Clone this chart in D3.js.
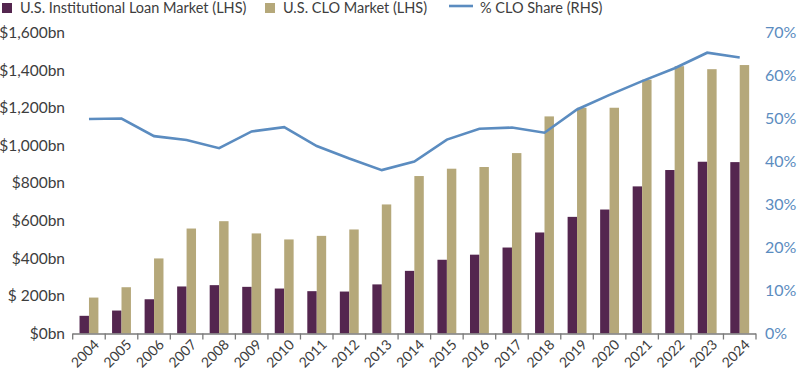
<!DOCTYPE html>
<html>
<head>
<meta charset="utf-8">
<script src="https://cdn.jsdelivr.net/npm/d3@7"></script>
<style>
  body { margin: 0; background: #fff; }
  svg { display: block; font-family: 'Lato', sans-serif; }
</style>
</head>
<body>
<svg id="chart" width="800" height="375"></svg>
<script>
// data
const years = ['2004','2005','2006','2007','2008','2009','2010','2011','2012','2013','2014',
               '2015','2016','2017','2018','2019','2020','2021','2022','2023','2024'];
const loanMarket = [94, 122, 182, 250, 257, 248, 239, 225, 223, 261, 333,
                    392, 419, 457, 537, 620, 659, 782, 869, 913, 911];
const cloMarket = [191, 246, 399, 558, 597, 532, 500, 519, 553, 686, 837,
                   876, 885, 959, 1154, 1200, 1200, 1349, 1421, 1405, 1427];
const cloShare = [49.9, 50.0, 45.9, 45.0, 43.1, 47.0, 48.0, 43.6, 40.7, 38.0, 40.0,
                  45.1, 47.6, 47.9, 46.7, 52.1, 55.5, 58.7, 61.7, 65.3, 64.2];
const leftTicks = [0, 200, 400, 600, 800, 1000, 1200, 1400, 1600];
const leftTickLabels = ['$0bn', '$ 200bn', '$400bn', '$600bn', '$800bn', '$1,000bn', '$1,200bn', '$1,400bn', '$1,600bn'];
const rightTicks = [0, 10, 20, 30, 40, 50, 60, 70];

const colors = {
    loan: '#54264f',
    clo: '#b5a87a',
    line: '#5b8cc0',
    text: '#3d3d3d',
    axis: '#7a7a7a'
};

const svg = d3.select('#chart');
const plot = { left: 72.7, right: 756, top: 32.5, bottom: 333.5 };

const x = d3.scaleBand().domain(years).range([plot.left, plot.right]).paddingInner(0.42).paddingOuter(0.21);
const xCenter = d3.scaleBand().domain(years).range([plot.left, plot.right]);
const yLeft = d3.scaleLinear().domain([0, 1600]).range([plot.bottom, plot.top]);
const yRight = d3.scaleLinear().domain([0, 70]).range([plot.bottom, plot.top]);
const half = x.bandwidth() / 2;

// bars
const groups = svg.append('g').selectAll('g')
    .data(years)
    .enter()
    .append('g');

groups.append('rect')
    .attr('x', d => x(d))
    .attr('width', half)
    .attr('y', (d, i) => yLeft(loanMarket[i]))
    .attr('height', (d, i) => plot.bottom - yLeft(loanMarket[i]))
    .attr('fill', colors.loan);

groups.append('rect')
    .attr('x', d => x(d) + half)
    .attr('width', half)
    .attr('y', (d, i) => yLeft(cloMarket[i]))
    .attr('height', (d, i) => plot.bottom - yLeft(cloMarket[i]))
    .attr('fill', colors.clo);

// x axis line with boundary ticks
const xAxis = svg.append('g');
xAxis.append('line')
    .attr('x1', plot.left).attr('x2', plot.right)
    .attr('y1', plot.bottom + 0.5).attr('y2', plot.bottom + 0.5)
    .attr('stroke', colors.axis).attr('stroke-width', 1.3);
const bounds = years.map(d => xCenter(d)).concat([plot.right]);
xAxis.selectAll('line.tick')
    .data(bounds)
    .enter()
    .append('line')
    .attr('class', 'tick')
    .attr('x1', d => d).attr('x2', d => d)
    .attr('y1', plot.bottom).attr('y2', plot.bottom + 6)
    .attr('stroke', colors.axis).attr('stroke-width', 1.3);

xAxis.selectAll('text')
    .data(years)
    .enter()
    .append('text')
    .attr('transform', d => `translate(${xCenter(d) + xCenter.bandwidth() / 2 + 4},${plot.bottom + 5}) rotate(-45)`)
    .attr('text-anchor', 'end')
    .attr('dy', '0.7em')
    .attr('font-size', 14)
    .attr('fill', colors.text)
    .text(d => d);

// left axis labels
svg.append('g').selectAll('text')
    .data(leftTicks)
    .enter()
    .append('text')
    .attr('x', 65)
    .attr('y', d => yLeft(d))
    .attr('dy', '0.35em')
    .attr('text-anchor', 'end')
    .attr('font-size', 15.5)
    .attr('fill', colors.text)
    .text((d, i) => leftTickLabels[i]);

// right axis labels
svg.append('g').selectAll('text')
    .data(rightTicks)
    .enter()
    .append('text')
    .attr('x', 765)
    .attr('y', d => yRight(d))
    .attr('dy', '0.35em')
    .attr('font-size', 16)
    .attr('fill', colors.line)
    .text(d => d + '%');

// share line
const line = d3.line()
    .x((d, i) => xCenter(years[i]) + xCenter.bandwidth() / 2)
    .y(d => yRight(d));

svg.append('path')
    .datum(cloShare)
    .attr('d', line)
    .attr('fill', 'none')
    .attr('stroke', colors.line)
    .attr('stroke-width', 2.6);

// legend
const legend = svg.append('g').attr('font-size', 14.5).attr('fill', colors.text);
legend.append('rect').attr('x', 2).attr('y', 3).attr('width', 10).attr('height', 10).attr('fill', colors.loan);
legend.append('text').attr('x', 20).attr('y', 8).attr('dy', '0.35em').text('U.S. Institutional Loan Market (LHS)');
legend.append('rect').attr('x', 265).attr('y', 3).attr('width', 10).attr('height', 10).attr('fill', colors.clo);
legend.append('text').attr('x', 283).attr('y', 8).attr('dy', '0.35em').text('U.S. CLO Market (LHS)');
legend.append('line').attr('x1', 449).attr('x2', 473).attr('y1', 6).attr('y2', 6)
    .attr('stroke', colors.line).attr('stroke-width', 2.6);
legend.append('text').attr('x', 480).attr('y', 8).attr('dy', '0.35em').text('% CLO Share (RHS)');
</script>
</body>
</html>
